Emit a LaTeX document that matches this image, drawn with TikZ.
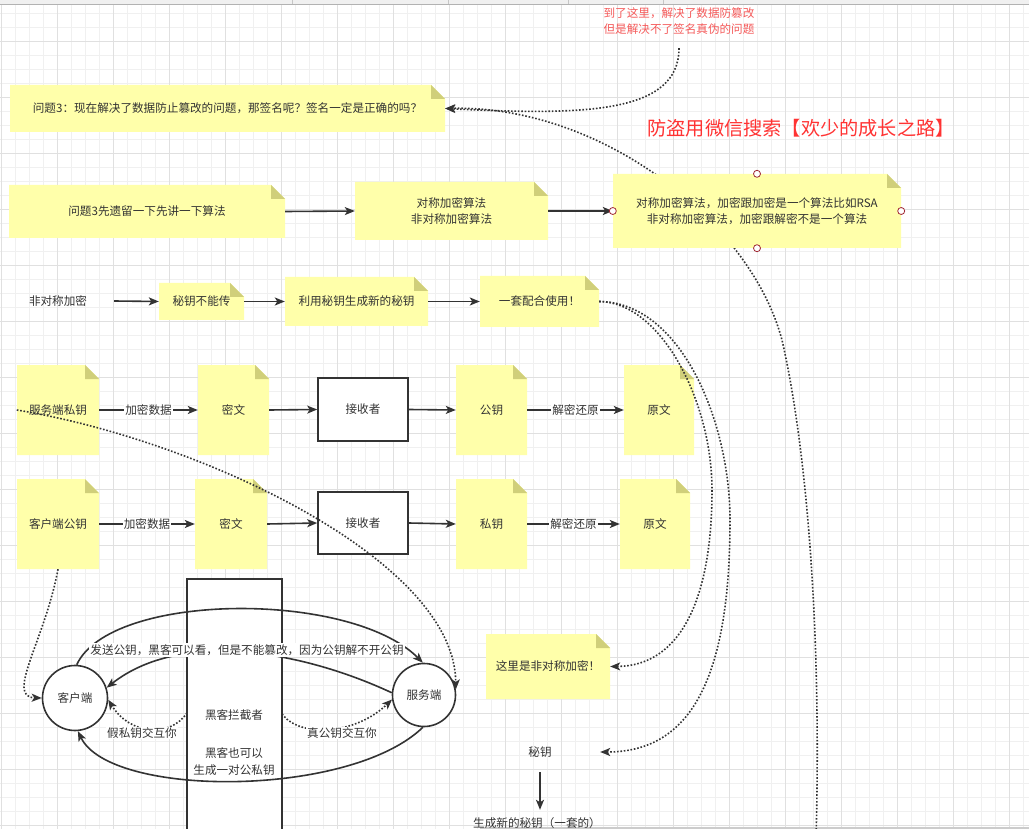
\documentclass[tikz,border=0pt]{standalone}
\usepackage{fontspec}
\setmainfont{Noto Sans CJK SC}
\usetikzlibrary{arrows.meta}
\definecolor{notefill}{RGB}{255,255,170}
\definecolor{notefold}{RGB}{208,207,122}
\definecolor{ink}{RGB}{51,51,51}
\definecolor{gmin}{RGB}{240,240,240}
\definecolor{gmaj}{RGB}{224,224,224}
\definecolor{redtxt}{RGB}{245,90,90}
\definecolor{titlered}{RGB}{255,51,51}
\definecolor{handlecol}{RGB}{160,40,50}
\tikzset{
 txt/.style={text=ink, font=\fontsize{11.6}{16}\selectfont, align=center, inner sep=0pt},
 arr/.style={draw=ink, line width=1.6pt, -{Stealth[length=10pt,width=8pt,inset=2.5pt]}},
 dotarr/.style={draw=ink, line width=1.6pt, dash pattern=on 1.6pt off 1.8pt, -{Stealth[length=10pt,width=8pt,inset=2.5pt]}},
 lbl/.style={txt, fill=white, inner sep=1pt},
 circ/.style={circle, draw=ink, line width=1.6pt, fill=white, txt},
 rbox/.style={draw=ink, line width=1.6pt, fill=white, txt, minimum width=90pt},
 handle/.style={draw=handlecol, fill=white, line width=0.8pt},
}
\newcommand\mynote[6]{%
  \fill[notefill] (#2,#3) -- ({#4-14},#3) -- (#4,{#3+14}) -- (#4,#5) -- (#2,#5) -- cycle;
  \fill[notefold] ({#4-14},#3) -- (#4,{#3+14}) -- ({#4-14},{#3+14}) -- cycle;
  \pgfmathsetmacro\myNW{#4-#2}\pgfmathsetmacro\myNH{#5-#3}%
  \node[txt, minimum width=\myNW pt, minimum height=\myNH pt] (#1) at ({(#2+#4)/2},{(#3+#5)/2}) {#6};
}
\begin{document}
\begin{tikzpicture}[x=1pt,y=-1pt]
\useasboundingbox (0,0) rectangle (1029,829);
\fill[white] (0,0) rectangle (1029,829);
% grid
\foreach \i in {0,...,73} \draw[gmin, line width=1pt] ({1.3+14*\i},0) -- ({1.3+14*\i},829);
\foreach \i in {0,...,59} \draw[gmin, line width=1pt] (0,{13.7+14*\i}) -- (1029,{13.7+14*\i});
\foreach \i in {0,...,18} \draw[gmaj, line width=1pt] ({1.3+56*\i},0) -- ({1.3+56*\i},829);
\foreach \i in {0,...,14} \draw[gmaj, line width=1pt] (0,{41.7+56*\i}) -- (1029,{41.7+56*\i});
% top band and bottom bar
\fill[gray!12] (0,0) rectangle (1029,4.3);
\draw[gray!60, line width=0.8pt] (0,4.3) -- (1029,4.3);
\foreach \x in {292,448,568,663} \draw[gray!45, line width=0.8pt] (\x,0) -- (\x,4.3);
\draw[gray!40, line width=1.5pt] (480,827.8) -- (1029,827.8);

% nodes top
\node[txt, text=redtxt, minimum height=54pt] (redn) at (679,21) {到了这里，解决了数据防篡改\\但是解决不了签名真伪的问题};
\node[txt, text=titlered, font=\fontsize{19.2}{22}\selectfont] (title) at (801,128) {防盗用微信搜索【欢少的成长之路】};

\mynote{q3}{10}{85}{445}{132}{问题3：现在解决了数据防止篡改的问题，那签名呢？签名一定是正确的吗？}

% long dotted line behind the big note
\coordinate (cbot) at (816,840);
\draw[dotarr] (cbot) .. controls (822,620) and (805,440) .. (782,340) .. controls (750,220) and (600,105) .. (q3.east);
\draw[dotarr] (redn.south) .. controls (679,115) and (580,115) .. (q3.east);

\mynote{defer}{9}{185}{285}{238}{问题3先遗留一下先讲一下算法}
\mynote{algs}{355}{182}{548}{240}{对称加密算法\\非对称加密算法}
\mynote{big}{613}{174}{901}{248}{对称加密算法，加密跟加密是一个算法比如RSA\\非对称加密算法，加密跟解密不是一个算法}
\draw[arr] (defer.east) -- (algs.west);
\draw[arr] (algs.east) -- (big.west);
\foreach \a in {north,south,east,west} \draw[handle] (big.\a) circle[radius=3.5pt];

% asymmetric row
\node[txt, minimum width=112pt] (asym) at (58,301) {非对称加密};
\mynote{nopass}{159}{283}{244}{320}{秘钥不能传}
\mynote{gen}{285}{277}{428}{326}{利用秘钥生成新的秘钥}
\mynote{pair}{480}{276}{599}{327}{一套配合使用！}
\draw[arr] (asym.east) -- (nopass.west);
\draw[arr] (nopass.east) -- (gen.west);
\draw[arr] (gen.east) -- (pair.west);

% row 1
\mynote{spriv}{17}{365}{99}{455}{服务端私钥}
\mynote{ctA}{198}{365}{269}{455}{密文}
\node[rbox, minimum height=63pt] (rcA) at (363,409.5) {接收者};
\mynote{pubA}{456}{365}{527}{455}{公钥}
\mynote{ptA}{624}{365}{694}{455}{原文}
\draw[arr] (spriv.east) -- node[lbl] {加密数据} (ctA.west);
\draw[arr] (ctA.east) -- (rcA.west);
\draw[arr] (rcA.east) -- (pubA.west);
\draw[arr] (pubA.east) -- node[lbl] {解密还原} (ptA.west);

% row 2
\mynote{cpub}{17}{479}{99}{569}{客户端公钥}
\mynote{ctB}{195}{479}{267}{569}{密文}
\node[rbox, minimum height=62pt] (rcB) at (363,523) {接收者};
\mynote{privB}{456}{479}{527}{569}{私钥}
\mynote{ptB}{620}{479}{690}{569}{原文}
\draw[arr] (cpub.east) -- node[lbl] {加密数据} (ctB.west);
\draw[arr] (ctB.east) -- (rcB.west);
\draw[arr] (rcB.east) -- (privB.west);
\draw[arr] (privB.east) -- node[lbl] {解密还原} (ptB.west);

% right side notes
\mynote{here}{486}{634}{610}{699}{这里是非对称加密！}
\node[txt, minimum width=120pt, minimum height=40pt] (key) at (540,752) {秘钥};
\node[txt, minimum height=26pt] (newkey) at (537,823) {生成新的秘钥（一套的）};
\draw[arr] (key.south) -- (key.south |- newkey.north);

\draw[dotarr] (pair.east) .. controls (660,302) and (712,400) .. (712,490) .. controls (712,600) and (680,666) .. (here.east);
\draw[dotarr] (pair.east) .. controls (680,302) and (730,420) .. (730,520) .. controls (730,680) and (690,752) .. (key.east);

% bottom diagram
\node[draw=ink, fill=white, line width=1.6pt, minimum width=95pt, minimum height=330pt, inner sep=0pt] (hack) at (234.5,744) {};
\node[circ, minimum size=65pt] (cli) at (75,698) {客户端};
\node[circ, minimum size=63pt] (srv) at (424,695) {服务端};
\node[txt] (hk1) at (234,715) {黑客拦截者};
\node[txt, font=\fontsize{11.6}{17}\selectfont] (hk2) at (234,761.5) {黑客也可以\\生成一对公私钥};

\draw[arr] (cli.87) .. controls (110,592) and (350,590) .. (srv.92);
\draw[arr] (srv.176) .. controls (300,650) and (180,630) .. (cli.18);
\draw[arr] (srv.-92) .. controls (350,798) and (110,798) .. (cli.-85);

\coordinate (hl) at (187,713);
\coordinate (hr) at (282,714);
\draw[dotarr] (hl) .. controls (170,738) and (130,735) .. (cli.-3);
\draw[dotarr] (hr) .. controls (300,738) and (355,735) .. (srv.188);
\node[lbl] (fakelbl) at (142,733) {假私钥交互你};
\node[lbl] (truelbl) at (342,733) {真公钥交互你};
\node[lbl] (sendlbl) at (247,650) {发送公钥，黑客可以看，但是不能篡改，因为公钥解不开公钥};

% dotted lines over notes
\draw[dotarr] (spriv.west) .. controls (200,440) and (455,560) .. (srv.10);
\draw[dotarr] (cpub.south) .. controls (45,640) and (5,697) .. (cli.180);
\end{tikzpicture}
\end{document}
